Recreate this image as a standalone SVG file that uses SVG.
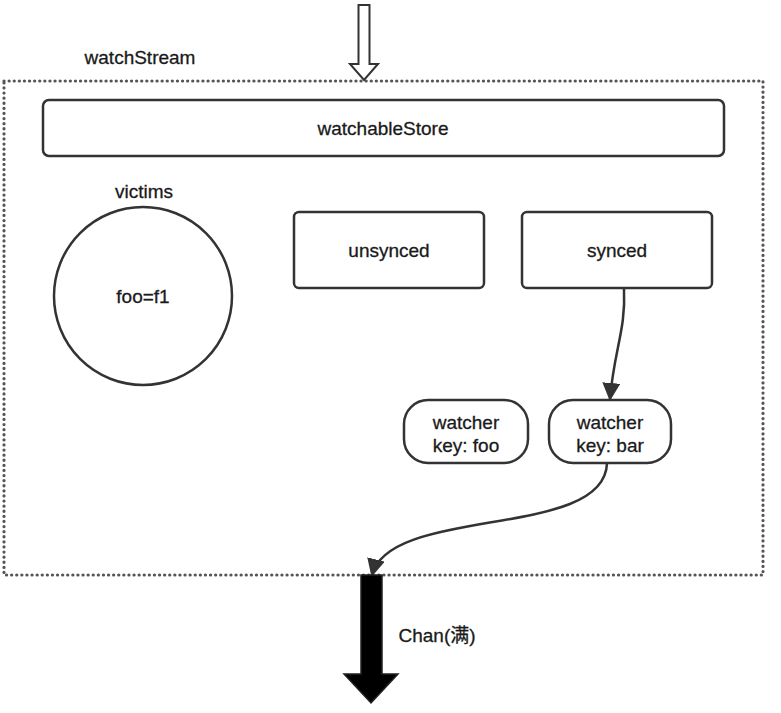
<svg xmlns="http://www.w3.org/2000/svg" width="781" height="713" viewBox="0 0 781 713">
<style>
.box{fill:#fff;stroke:#333;stroke-width:2.5}
.t{font-family:"Liberation Sans","Noto Sans CJK SC",sans-serif;font-size:19px;fill:#1a1a1a;text-anchor:middle;stroke:#1a1a1a;stroke-width:0.3}
.con{fill:none;stroke:#333;stroke-width:2.5}
</style>
<defs>
<marker id="ah2" markerWidth="18" markerHeight="18" refX="16" refY="9" orient="auto" markerUnits="userSpaceOnUse" viewBox="0 0 18 18">
<path d="M0,0 L18,9 L0,18 z" fill="#333"/>
</marker>
</defs>
<rect width="781" height="713" fill="#fff"/>
<g id="watchStream">
<rect x="4" y="81" width="759" height="494" fill="none" stroke="#555" stroke-width="3.2" stroke-dasharray="0.1 5" stroke-linecap="round"/>
<text class="t" x="140" y="64">watchStream</text>
</g>
<g id="input-arrow">
<path d="M358.5,5 L369.5,5 L369.5,64 L378,64 L364,80 L350,64 L358.5,64 Z" fill="#fff" stroke="#333" stroke-width="2"/>
</g>
<g id="watchableStore">
<rect class="box" x="43" y="100" width="681" height="56" rx="6"/>
<text class="t" x="383" y="135">watchableStore</text>
</g>
<g id="victims">
<circle class="box" cx="143" cy="296" r="89"/>
<text class="t" x="144" y="198">victims</text>
<text class="t" x="143" y="303">foo=f1</text>
</g>
<g id="unsynced">
<rect class="box" x="294" y="212" width="190" height="76" rx="5"/>
<text class="t" x="389" y="257">unsynced</text>
</g>
<g id="synced">
<rect class="box" x="522" y="212" width="190" height="76" rx="5"/>
<text class="t" x="617" y="257">synced</text>
</g>
<g id="watcher-foo">
<rect class="box" x="404" y="400" width="124" height="63" rx="24"/>
<text class="t" x="466" y="429">watcher</text>
<text class="t" x="466" y="452">key: foo</text>
</g>
<g id="watcher-bar">
<rect class="box" x="549" y="400" width="122" height="63" rx="24"/>
<text class="t" x="610" y="429">watcher</text>
<text class="t" x="610" y="452">key: bar</text>
</g>
<g id="connectors">
<path class="con" d="M624,289 C626,330 614,350 610,399" marker-end="url(#ah2)"/>
<path class="con" d="M607,463 C605,540 390,505 372,575" marker-end="url(#ah2)"/>
<path d="M361,575 L382,575 L382,674 L398,674 L371,703 L344,674 L361,674 Z" fill="#000" stroke="#222" stroke-width="1.5"/>
</g>
<g id="chan-label">
<text class="t" x="437" y="642">Chan(满)</text>
</g>
</svg>
